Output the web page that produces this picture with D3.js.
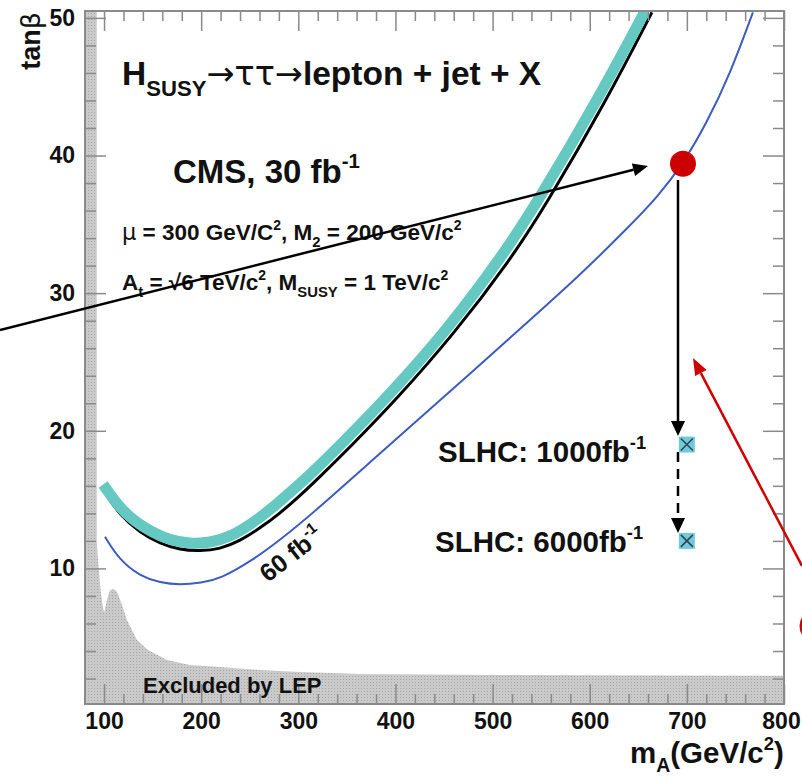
<!DOCTYPE html>
<html>
<head>
<meta charset="utf-8">
<script src="https://cdn.jsdelivr.net/npm/d3@7"></script>
<style>
  body { margin: 0; background: #fff; }
  text { font-family: "Liberation Sans", Arial, Helvetica, sans-serif; }
</style>
</head>
<body>
<script>
// ---- data (mA in GeV/c2, tanBeta) ----
var tealMA   = [99, 115, 130, 150, 168, 188, 209, 230, 250, 271, 291, 312, 343, 391, 453, 511, 546, 611, 657];
var tealTB   = [16.1, 14.5, 13.5, 12.6, 12.05, 11.8, 11.85, 12.3, 13.15, 14.25, 15.5, 16.8, 18.95, 22.4, 27.3, 32.8, 36.6, 44.4, 50.5];

var blackMA  = [102, 116, 137, 158, 178, 199, 219, 240, 261, 281, 302, 322, 353, 400, 461, 518, 554, 618, 664];
var blackTB  = [15.4, 13.9, 12.6, 11.8, 11.35, 11.27, 11.4, 12.0, 12.95, 14.0, 15.3, 16.65, 18.8, 22.2, 27.1, 32.4, 36.3, 44.1, 50.4];

var blueMA   = [101, 116, 137, 158, 178, 200, 220, 253, 281, 315, 384, 453, 521, 590, 640, 670, 696, 720, 745, 768];
var blueTB   = [12.3, 10.6, 9.45, 8.95, 8.8, 8.95, 9.25, 10.6, 12.05, 14.0, 18.35, 22.65, 26.95, 31.3, 34.8, 37.0, 39.4, 42.3, 46.0, 50.4];

// LEP excluded region boundary
var lepMA    = [92.5, 92.5, 93.8, 96.9, 100, 103, 106, 109.5, 113.3, 118.5, 123.6, 133.9, 145.3, 164.8, 188.5, 219.4, 260.6, 301.7, 363.5, 507.6, 800];
var lepTB    = [50.5, 12, 10.6, 8.1, 6.75, 7.7, 8.4, 8.5, 8.3, 7.35, 6.25, 4.8, 4.07, 3.35, 2.98, 2.84, 2.62, 2.48, 2.33, 2.26, 2.2];

var slhcMA   = [700, 700];
var slhcTB   = [19, 12];
var redMA    = [696];
var redTB    = [39.4];

var xMajor   = [100, 200, 300, 400, 500, 600, 700, 800];
var yMajor   = [10, 20, 30, 40, 50];

var W = 802, H = 778;
var svg = d3.select("body").append("svg")
    .attr("width", W)
    .attr("height", H)
    .style("background", "#fff");

var x = d3.scaleLinear().domain([80.4, 800]).range([85, 784]);
var y = d3.scaleLinear().domain([0.15, 50.5]).range([704, 11]);

var xMinor = d3.range(80, 801, 20).filter(function(d) { return d % 100 !== 0; });
var yMinor = d3.range(2, 51, 2).filter(function(d) { return d % 10 !== 0; });

// stipple pattern for the LEP region
var defs = svg.append("defs");
var pat = defs.append("pattern")
    .attr("id", "stip")
    .attr("width", 3).attr("height", 3)
    .attr("patternUnits", "userSpaceOnUse");
pat.append("rect").attr("width", 3).attr("height", 3).attr("fill", "#cacaca");
pat.append("rect").attr("x", 1).attr("y", 1).attr("width", 1).attr("height", 1).attr("fill", "#a4a4a4");

defs.append("clipPath").attr("id", "frame")
  .append("rect")
    .attr("x", x(80.4)).attr("y", y(50.5))
    .attr("width", x(800) - x(80.4)).attr("height", y(0.15) - y(50.5));

var plot = svg.append("g").attr("clip-path", "url(#frame)");

function pts(a, b) { return a.map(function(d, i) { return [d, b[i]]; }); }

// LEP excluded area
var lepPts = [[80.4, 50.5]].concat(pts(lepMA, lepTB), [[800, 0.15], [80.4, 0.15]]);
plot.append("path")
    .attr("d", d3.line().x(function(d) { return x(d[0]); }).y(function(d) { return y(d[1]); })(lepPts) + "Z")
    .attr("fill", "url(#stip)");

var line = d3.line()
    .x(function(d) { return x(d[0]); })
    .y(function(d) { return y(d[1]); })
    .curve(d3.curveBasis);

// 30 fb-1 contours
plot.append("path").attr("d", line(pts(blackMA, blackTB)))
    .attr("fill", "none").attr("stroke", "#000").attr("stroke-width", 3);
plot.append("path").attr("d", line(pts(tealMA, tealTB)))
    .attr("fill", "none").attr("stroke", "#66c9c1").attr("stroke-width", 11);
// 60 fb-1
plot.append("path").attr("d", line(pts(blueMA, blueTB)))
    .attr("fill", "none").attr("stroke", "#3d5cc0").attr("stroke-width", 2);

// axes (ticks inside the frame)
var tickCol = "#8a8a8a";
function styleAxis(g, labels) {
  g.select(".domain").remove();
  g.selectAll("line").attr("stroke", tickCol).attr("stroke-width", 1.5);
  if (labels) {
    g.selectAll("text")
      .attr("font-family", "'Liberation Sans', Arial, sans-serif")
      .attr("font-size", 23).attr("font-weight", "bold").attr("fill", "#111");
  } else {
    g.selectAll("text").remove();
  }
}

svg.append("g").attr("transform", "translate(0," + y(0.15) + ")")
    .call(d3.axisBottom(x).tickValues(xMinor).tickSize(-10))
    .call(styleAxis, false);
var xAx = svg.append("g").attr("transform", "translate(0," + y(0.15) + ")")
    .call(d3.axisBottom(x).tickValues(xMajor).tickSize(-20).tickPadding(9).tickFormat(d3.format("d")))
    .call(styleAxis, true);
// last label sits against the window edge
xAx.selectAll("text").filter(function(d) { return d === 800; }).attr("x", -3);

svg.append("g").attr("transform", "translate(0," + y(50.5) + ")")
    .call(d3.axisTop(x).tickValues(xMinor).tickSize(-10)).call(styleAxis, false);
svg.append("g").attr("transform", "translate(0," + y(50.5) + ")")
    .call(d3.axisTop(x).tickValues(xMajor).tickSize(-20)).call(styleAxis, false);

svg.append("g").attr("transform", "translate(" + x(80.4) + ",0)")
    .call(d3.axisLeft(y).tickValues(yMinor).tickSize(-11)).call(styleAxis, false);
svg.append("g").attr("transform", "translate(" + x(80.4) + ",0)")
    .call(d3.axisLeft(y).tickValues(yMajor).tickSize(-21).tickPadding(10).tickFormat(d3.format("d")))
    .call(styleAxis, true);
svg.append("g").attr("transform", "translate(" + x(800) + ",0)")
    .call(d3.axisRight(y).tickValues(yMinor).tickSize(-11)).call(styleAxis, false);
svg.append("g").attr("transform", "translate(" + x(800) + ",0)")
    .call(d3.axisRight(y).tickValues(yMajor).tickSize(-21)).call(styleAxis, false);

// frame
svg.append("rect")
    .attr("x", x(80.4)).attr("y", y(50.5))
    .attr("width", x(800) - x(80.4)).attr("height", y(0.15) - y(50.5))
    .attr("fill", "none").attr("stroke", tickCol).attr("stroke-width", 2);

// text with sub/superscripts: parts = [[string, "" | "sub" | "sup" | "sym"], ...]
function rich(px, py, parts, size, opts) {
  opts = opts || {};
  var t = svg.append("text")
      .attr("x", px).attr("y", py)
      .attr("font-size", size)
      .attr("font-weight", "bold")
      .attr("fill", opts.fill || "#111");
  if (opts.rotate) t.attr("transform", "rotate(" + opts.rotate + "," + px + "," + py + ")");
  if (opts.anchor) t.attr("text-anchor", opts.anchor);
  var shift = 0;
  parts.forEach(function(p) {
    var target = 0, fs = size;
    if (p[1] === "sub") { target = size * 0.32; fs = size * 0.66; }
    if (p[1] === "sup") { target = -size * 0.45; fs = size * 0.62; }
    var ts = t.append("tspan")
      .attr("dy", target - shift)
      .attr("font-size", fs)
      .text(p[0]);
    if (p[1] === "sym") ts.attr("font-family", "'DejaVu Sans', sans-serif").attr("font-weight", "normal");
    shift = target;
  });
  return t;
}

rich(122, 85, [["H", ""], ["SUSY", "sub"], ["\u2192\u03c4\u03c4\u2192", "sym"], ["lepton + jet + X", ""]], 33.5);
rich(173, 183, [["CMS, 30 fb", ""], ["-1", "sup"]], 33);
rich(122, 240, [["\u03bc", "sym"], [" = 300 GeV/C", ""], ["2", "sup"], [", M", ""], ["2", "sub"], [" = 200 GeV/c", ""], ["2", "sup"]], 22.5);
rich(122, 290, [["A", ""], ["t", "sub"], [" = \u221a6 TeV/c", ""], ["2", "sup"], [", M", ""], ["SUSY", "sub"], [" = 1 TeV/c", ""], ["2", "sup"]], 22.5);
rich(268, 583, [["60 fb", ""], ["-1", "sup"]], 25, { rotate: -38 });
rich(438, 462, [["SLHC: 1000fb", ""], ["-1", "sup"]], 29.5);
rich(435, 552, [["SLHC: 6000fb", ""], ["-1", "sup"]], 29.5);
rich(143, 693, [["Excluded by LEP", ""]], 22);

// axis titles
rich(40, 12, [["tan", ""], ["\u03b2", "sym"]], 27, { rotate: -90, anchor: "end" });
rich(630, 763, [["m", ""], ["A", "sub"], ["(GeV/c", ""], ["2", "sup"], [")", ""]], 29.5);

// arrows
function arrow(x1, y1, x2, y2, col, w, dash, hl, hw) {
  var a = Math.atan2(y2 - y1, x2 - x1);
  var bx = x2 - hl * Math.cos(a), by = y2 - hl * Math.sin(a);
  svg.append("line")
      .attr("x1", x1).attr("y1", y1).attr("x2", bx).attr("y2", by)
      .attr("stroke", col).attr("stroke-width", w)
      .attr("stroke-dasharray", dash || null);
  var nx = -Math.sin(a) * hw / 2, ny = Math.cos(a) * hw / 2;
  svg.append("path")
      .attr("d", "M" + x2 + "," + y2 + "L" + (bx + nx) + "," + (by + ny) + "L" + (bx - nx) + "," + (by - ny) + "Z")
      .attr("fill", col);
}

// discovery point on the 60 fb-1 curve
svg.selectAll(".red").data(redMA).enter().append("circle")
    .attr("cx", function(d) { return x(d); })
    .attr("cy", function(d, i) { return y(redTB[i]); })
    .attr("r", 13)
    .attr("fill", "#cc0000");

arrow(0, 330, 648, 166, "#000", 2.5, null, 15, 13);
arrow(678, 180, 678, 436, "#000", 2.5, null, 15, 14);
arrow(678, 452, 678, 533, "#000", 2.5, "10,7", 15, 14);
arrow(802, 566, 693, 358, "#cc0000", 2.5, null, 17, 13);

// red circle cut at the right edge
svg.append("circle")
    .attr("cx", 816).attr("cy", 626).attr("r", 15)
    .attr("fill", "none").attr("stroke", "#cc0000").attr("stroke-width", 3);

// SLHC markers
var mk = svg.selectAll(".slhc").data(slhcMA).enter().append("g")
    .attr("transform", function(d, i) { return "translate(" + x(d) + "," + y(slhcTB[i]) + ")"; });
mk.append("rect")
    .attr("x", -8).attr("y", -8).attr("width", 16).attr("height", 16)
    .attr("fill", "#6fcbdb");
mk.append("path")
    .attr("d", "M-6,-6L6,6M-6,6L6,-6")
    .attr("stroke", "#334455").attr("stroke-width", 1.6);
</script>
</body>
</html>
